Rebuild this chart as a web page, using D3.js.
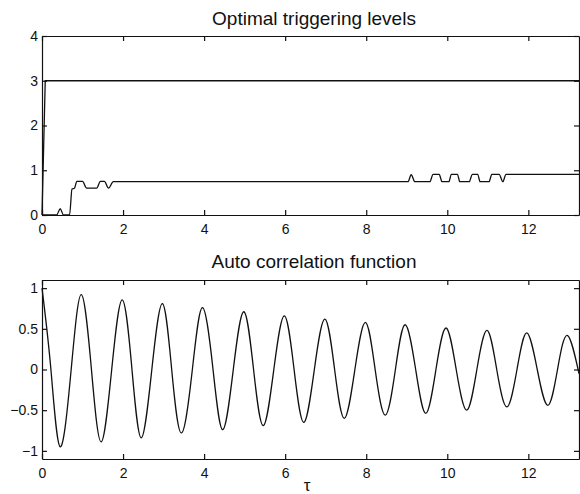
<!DOCTYPE html>
<html>
<head>
<meta charset="utf-8">
<script src="https://cdn.jsdelivr.net/npm/d3@7"></script>
<style>
  body { margin: 0; background: #fff; }
  text { font-family: "Liberation Sans", Arial, sans-serif; fill: #111; }
</style>
</head>
<body>
<script>
// Data

// top panel: upper triggering level
var upperTau = [0, 0.08, 13.25];
var upperLevel = [0, 3, 3];

// top panel: lower triggering level
var lowerTau = [0, 0.36, 0.45, 0.53, 0.68, 0.74, 0.8, 0.86, 1.0, 1.1, 1.35, 1.44, 1.54, 1.64, 1.76,
  9.03, 9.11, 9.2, 9.57, 9.65, 9.8, 9.87, 10.04, 10.1, 10.25, 10.31, 10.54, 10.62, 10.75, 10.81,
  11.03, 11.1, 11.28, 11.37, 11.45, 13.25];
var lowerLevel = [0, 0, 0.14, 0, 0, 0.58, 0.6, 0.75, 0.75, 0.6, 0.6, 0.75, 0.75, 0.6, 0.744,
  0.744, 0.9, 0.744, 0.744, 0.91, 0.91, 0.744, 0.744, 0.91, 0.91, 0.744, 0.744, 0.91, 0.91, 0.744,
  0.744, 0.91, 0.91, 0.744, 0.91, 0.91];

// bottom panel: auto correlation (extrema and zero crossings)
var acfTau = [0, 0.22, 0.45, 0.72, 0.97, 1.22, 1.46, 1.72, 1.98, 2.22, 2.45, 2.71, 2.97, 3.2, 3.44,
  3.71, 3.96, 4.22, 4.46, 4.72, 4.98, 5.22, 5.46, 5.72, 5.98, 6.22, 6.46, 6.72, 6.98, 7.22, 7.46,
  7.72, 7.98, 8.22, 8.47, 8.72, 8.96, 9.22, 9.47, 9.72, 9.97, 10.22, 10.48, 10.73, 10.98, 11.22,
  11.47, 11.72, 11.96, 12.22, 12.48, 12.72, 12.96, 13.25];
var acfValue = [1, 0, -0.95, 0, 0.92, 0, -0.89, 0, 0.855, 0, -0.84, 0, 0.81, 0, -0.78,
  0, 0.76, 0, -0.74, 0, 0.71, 0, -0.69, 0, 0.66, 0, -0.65, 0, 0.62, 0, -0.6,
  0, 0.58, 0, -0.56, 0, 0.55, 0, -0.54, 0, 0.51, 0, -0.5, 0, 0.48, 0,
  -0.46, 0, 0.45, 0, -0.44, 0, 0.42, -0.05];

var xTicks = [0, 2, 4, 6, 8, 10, 12];
var topYTicks = [0, 1, 2, 3, 4];
var bottomYTicks = [-1, -0.5, 0, 0.5, 1];

var width = 580, height = 494;
var left = 42, right = 579;

var svg = d3.select("body").append("svg")
    .attr("width", width)
    .attr("height", height);

var x = d3.scaleLinear().domain([0, 13.25]).range([left, right]);

function zip(a, b) { return a.map(function(v, i) { return [v, b[i]]; }); }

function panel(y, yTicks, yFormat, title, titleY) {
  var g = svg.append("g");
  var top = y.range()[1], bottom = y.range()[0];

  g.append("g")
      .attr("transform", "translate(0," + bottom + ")")
      .call(d3.axisBottom(x).tickValues(xTicks).tickSize(-5).tickSizeOuter(0).tickPadding(9));
  g.append("g")
      .attr("transform", "translate(0," + top + ")")
      .call(d3.axisTop(x).tickValues(xTicks).tickSize(-5).tickSizeOuter(0).tickFormat(""));
  g.append("g")
      .attr("transform", "translate(" + left + ",0)")
      .call(d3.axisLeft(y).tickValues(yTicks).tickSize(-5).tickSizeOuter(0).tickPadding(4).tickFormat(yFormat));
  g.append("g")
      .attr("transform", "translate(" + right + ",0)")
      .call(d3.axisRight(y).tickValues(yTicks).tickSize(-5).tickSizeOuter(0).tickFormat(""));

  g.selectAll(".domain, .tick line").attr("stroke", "#111").attr("stroke-width", 1.2);
  g.selectAll(".tick text").attr("font-size", 14).attr("font-family", "Liberation Sans, Arial, sans-serif").attr("fill", "#111");

  svg.append("text")
      .attr("x", 314)
      .attr("y", titleY)
      .attr("text-anchor", "middle")
      .attr("font-size", 19)
      .text(title);
  return g;
}

// Top panel
var y1 = d3.scaleLinear().domain([0, 4]).range([215, 36]);
panel(y1, topYTicks, d3.format("d"), "Optimal triggering levels", 25);

svg.append("path")
    .datum(zip(upperTau, upperLevel))
    .attr("fill", "none")
    .attr("stroke", "#111")
    .attr("stroke-width", 1.3)
    .attr("d", d3.line().x(function(d) { return x(d[0]); }).y(function(d) { return y1(d[1]); }));

svg.append("path")
    .datum(zip(lowerTau, lowerLevel))
    .attr("fill", "none")
    .attr("stroke", "#111")
    .attr("stroke-width", 1.3)
    .attr("d", d3.line().curve(d3.curveMonotoneX).x(function(d) { return x(d[0]); }).y(function(d) { return y1(d[1]); }));

// Bottom panel
var y2 = d3.scaleLinear().domain([-1.1, 1.1]).range([459, 280]);
panel(y2, bottomYTicks, function(d) { return d === 0 ? "0" : d3.format("")(d).replace("-", "\u2212"); }, "Auto correlation function", 268);

svg.append("path")
    .datum(zip(acfTau, acfValue))
    .attr("fill", "none")
    .attr("stroke", "#111")
    .attr("stroke-width", 1.3)
    .attr("d", d3.line().curve(d3.curveNatural).x(function(d) { return x(d[0]); }).y(function(d) { return y2(d[1]); }));

// x label
svg.append("text")
    .attr("x", 307)
    .attr("y", 491)
    .attr("text-anchor", "middle")
    .attr("font-size", 17)
    .attr("font-family", "Liberation Serif, serif")
    .text("\u03c4");
</script>
</body>
</html>
